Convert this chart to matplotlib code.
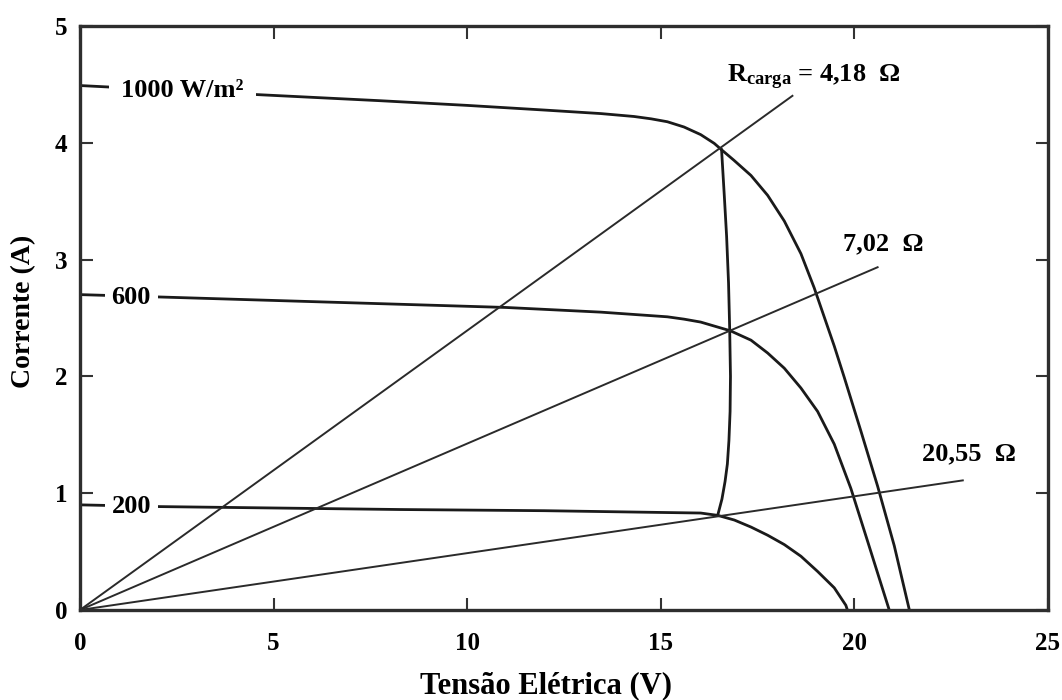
import matplotlib
matplotlib.use("Agg")
import matplotlib.pyplot as plt

plt.rcParams["font.family"] = ["Liberation Serif", "DejaVu Serif"]
plt.rcParams["font.weight"] = "bold"
plt.rcParams["axes.labelweight"] = "bold"
plt.rcParams["mathtext.fontset"] = "custom"
plt.rcParams["mathtext.rm"] = "Liberation Serif:bold"
plt.rcParams["mathtext.it"] = "Liberation Serif:bold"
plt.rcParams["mathtext.bf"] = "Liberation Serif:bold"

# I-V curves of the module for three irradiance levels (voltage V, current A)
v_1000 = [0.0, 4.72, 7.76, 10.0, 12.0, 13.45, 14.31, 14.75, 15.17, 15.60,
          16.03, 16.38, 16.57, 16.89, 17.33, 17.76, 18.19, 18.62, 18.96,
          19.48, 19.74, 20.17, 20.6, 21.03, 21.42]
i_1000 = [4.49, 4.41, 4.36, 4.32, 4.28, 4.25, 4.225, 4.205, 4.18, 4.135,
          4.07, 3.995, 3.94, 3.85, 3.72, 3.55, 3.33, 3.05, 2.76,
          2.26, 1.99, 1.53, 1.06, 0.55, 0.0]

v_600 = [0.0, 2.03, 6.0, 11.0, 13.45, 15.17, 15.6, 16.03, 16.8, 17.33, 17.76,
         18.19, 18.62, 19.05, 19.48, 19.91, 20.34, 20.9]
i_600 = [2.70, 2.68, 2.64, 2.59, 2.55, 2.51, 2.49, 2.465, 2.39, 2.31, 2.20,
         2.07, 1.90, 1.70, 1.42, 1.04, 0.59, 0.0]

v_200 = [0.0, 2.08, 8.28, 12.0, 15.0, 16.03, 16.47, 16.9, 17.33, 17.76,
         18.19, 18.62, 19.05, 19.48, 19.78, 19.82]
i_200 = [0.90, 0.885, 0.86, 0.85, 0.835, 0.83, 0.81, 0.77, 0.71, 0.64,
         0.56, 0.46, 0.33, 0.19, 0.04, 0.0]

# maximum power point locus
v_mpp = [16.47, 16.58, 16.66, 16.72, 16.76, 16.79, 16.80, 16.78, 16.75, 16.70,
         16.64, 16.57]
i_mpp = [0.81, 0.95, 1.10, 1.25, 1.45, 1.70, 2.00, 2.40, 2.80, 3.20, 3.55, 3.94]

# load lines: resistance (ohm) and the voltage where each line stops
r_load = [4.18, 7.02, 20.55]
v_load_end = [18.4, 20.6, 22.8]

x_ticks = [0, 5, 10, 15, 20, 25]
y_ticks = [0, 1, 2, 3, 4, 5]

curve_color = "#1a1a1a"
line_color = "#2a2a2a"

fig = plt.figure(figsize=(10.62, 7.0), dpi=100)
ax = fig.add_axes([0.0753, 0.1286, 0.9115, 0.8343])

for v, i in [(v_1000, i_1000), (v_600, i_600), (v_200, i_200)]:
    ax.plot(v, i, color=curve_color, lw=2.0, zorder=2,
            solid_joinstyle="round")
ax.plot(v_mpp, i_mpp, color=curve_color, lw=2.0, zorder=2,
        solid_joinstyle="round")

for r, v_end in zip(r_load, v_load_end):
    ax.plot([0.0, v_end], [0.0, v_end / r], color=line_color, lw=1.4, zorder=2)

# irradiance labels sit on the curves, masking them
lab_kw = dict(fontsize=19, fontweight="bold", ha="center", va="baseline",
              zorder=4)
ax.text(2.65, 4.39, "1000 W/m²",
        bbox=dict(facecolor="white", edgecolor="none", pad=9), **lab_kw)
ax.text(1.32, 2.62, "600",
        bbox=dict(facecolor="white", edgecolor="none", pad=5), **lab_kw)
ax.text(1.33, 0.828, "200",
        bbox=dict(facecolor="white", edgecolor="none", pad=5), **lab_kw)

# load resistance labels
ax.text(16.72, 4.52, r"$\mathrm{R_{carga}}$" + " = 4,18  Ω", fontsize=19,
        ha="left", va="baseline")
ax.text(19.70, 3.08, "7,02  Ω", fontsize=19, ha="left", va="baseline")
ax.text(21.74, 1.284, "20,55  Ω", fontsize=19, ha="left", va="baseline")

ax.set_xlim(0, 25)
ax.set_ylim(0, 5)
ax.set_xticks(x_ticks)
ax.set_yticks(y_ticks)
ax.set_xticklabels([str(t) for t in x_ticks])
ax.set_yticklabels([str(t) for t in y_ticks])
ax.tick_params(axis="both", direction="in", top=True, right=True,
               length=9, width=1.5, color="#333333", labelsize=18)
ax.tick_params(axis="x", pad=16)
ax.tick_params(axis="y", pad=9)

for s in ax.spines.values():
    s.set_linewidth(2.4)
    s.set_color("#2e2e2e")

ax.set_xlabel("Tensão Elétrica (V)", fontsize=22)
ax.set_ylabel("Corrente (A)", fontsize=20)
ax.xaxis.set_label_coords(0.481, -0.105)
ax.yaxis.set_label_coords(-0.045, 0.511)

fig.savefig("out.png", dpi=100, facecolor="white")
